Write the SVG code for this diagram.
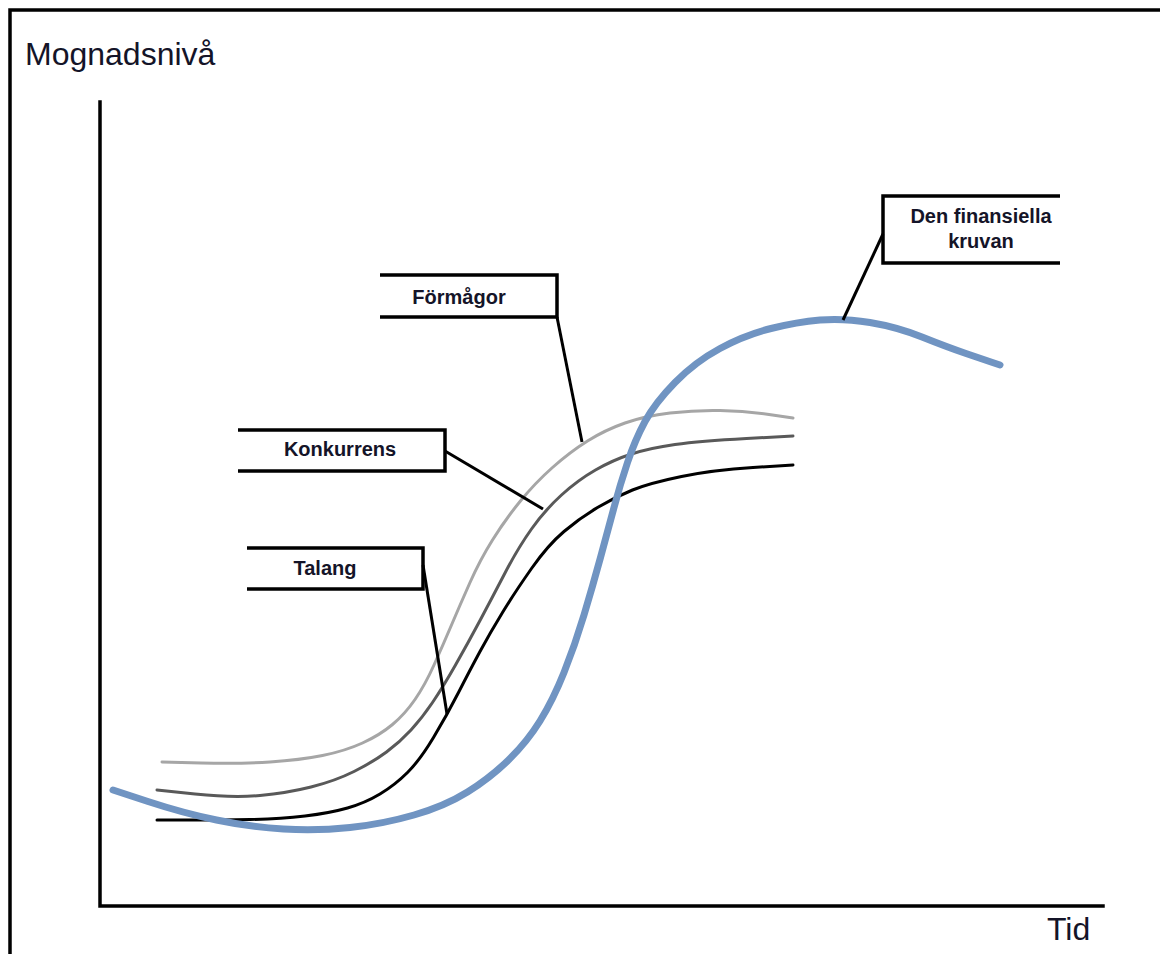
<svg xmlns="http://www.w3.org/2000/svg" width="1160" height="954" viewBox="0 0 1160 954">
  <style>
    .frame { fill: none; stroke: #000; stroke-width: 3.5; }
    .axis { fill: none; stroke: #000; stroke-width: 3.5; stroke-linecap: square; }
    .axis-title { font-family: "Liberation Sans", Arial, sans-serif; font-size: 32px; fill: #141428; }
    .curve { fill: none; stroke-width: 3; stroke-linecap: round; stroke-linejoin: round; }
    .light { stroke: #a6a6a6; }
    .mid { stroke: #595959; }
    .dark { stroke: #000; }
    .finance { fill: none; stroke: #7094c2; stroke-width: 7; stroke-linecap: round; stroke-linejoin: round; }
    .box { fill: none; stroke: #000; stroke-width: 3.5; stroke-linejoin: miter; }
    .leader { fill: none; stroke: #000; stroke-width: 3; }
    .label { font-family: "Liberation Sans", Arial, sans-serif; font-size: 20px; font-weight: bold; fill: #141428; text-anchor: middle; }
  </style>

  <!-- outer frame (open to the right and bottom) -->
  <path class="frame" d="M10,954 L10,10 L1160,10"/>

  <!-- axes -->
  <g id="axes">
    <path class="axis" d="M100,102 L100,906 L1103,906"/>
    <text class="axis-title" x="25" y="65">Mognadsnivå</text>
    <text class="axis-title" x="1047" y="940">Tid</text>
  </g>

  <!-- maturity curves -->
  <g id="curves">
    <path id="curve-formagor" class="curve light" d="M162,762 L201,763 Q240,764 270,762 Q300,760 322.5,755.5 Q345,751 362.5,743 Q380,735 392.5,724.5 Q405,714 415,699.5 Q425,685 434,665 Q443,645 451.5,625 Q460,605 470,582.5 Q480,560 492.5,540 Q505,520 520,501.5 Q535,483 552.5,467.5 Q570,452 587.5,441 Q605,430 625,423 Q645,416 670,413 Q695,410 720,410.5 Q745,411 769,414.5 L793,418"/>
    <path id="curve-konkurrens" class="curve mid" d="M157,790 L195,794 Q233,798 260,795.5 Q287,793 311,787 Q335,781 354,771.5 Q373,762 386.5,752 Q400,742 411,730 Q422,718 432.5,702.5 Q443,687 455.5,665 Q468,643 480,620.5 Q492,598 505,573 Q518,548 531.5,529 Q545,510 561.5,495 Q578,480 595.5,470 Q613,460 631.5,454 Q650,448 675,444.5 Q700,441 746.5,438.5 L793,436"/>
    <path id="curve-talang" class="curve dark" d="M157,820 L188.5,820 Q220,820 250,819.5 Q280,819 305,816 Q330,813 347.5,808 Q365,803 380,794 Q395,785 407.5,772.5 Q420,760 433.5,737.5 Q447,715 458.5,692.5 Q470,670 480,651.5 Q490,633 502.5,612.5 Q515,592 531.5,568.5 Q548,545 564,531.5 Q580,518 597.5,507.5 Q615,497 632.5,490 Q650,483 681.5,476.5 Q713,470 753,467.5 L793,465"/>
    <path id="curve-finansiell" class="finance" d="M113,790 L148,801.5 Q183,813 216.5,820 Q250,827 283.5,829 Q317,831 350,827.5 Q383,824 414,815 Q445,806 467.5,792 Q490,778 508.5,760 Q527,742 540,721 Q553,700 564,672.5 Q575,645 584,615 Q593,585 600.5,557.5 Q608,530 614,507.5 Q620,485 627.5,462.5 Q635,440 645,421.5 Q655,403 675,382.5 Q695,362 720,348.5 Q745,335 771,328.5 Q797,322 820,320 Q843,318 870,322.5 Q897,327 922,337 Q947,347 966,353.5 Q985,360 992.5,362.5 L1000,365"/>
  </g>

  <!-- label leaders -->
  <g id="connectors">
    <line class="leader" x1="557" y1="317" x2="582" y2="442"/>
    <line class="leader" x1="445" y1="451" x2="543" y2="509"/>
    <line class="leader" x1="423" y1="565" x2="447" y2="714"/>
    <line class="leader" x1="883" y1="234" x2="843" y2="320"/>
  </g>

  <!-- label boxes -->
  <g id="label-formagor">
    <path class="box" d="M380,275 L557,275 L557,317 L380,317"/>
    <text class="label" x="459" y="304">Förmågor</text>
  </g>
  <g id="label-konkurrens">
    <path class="box" d="M238,430 L445,430 L445,471 L238,471"/>
    <text class="label" x="340" y="456">Konkurrens</text>
  </g>
  <g id="label-talang">
    <path class="box" d="M247,548 L423,548 L423,589 L247,589"/>
    <text class="label" x="325" y="575">Talang</text>
  </g>
  <g id="label-finansiell">
    <path class="box" d="M1060,196 L883,196 L883,263 L1060,263"/>
    <text class="label" x="981" y="223">Den finansiella</text>
    <text class="label" x="981" y="248">kruvan</text>
  </g>
</svg>
